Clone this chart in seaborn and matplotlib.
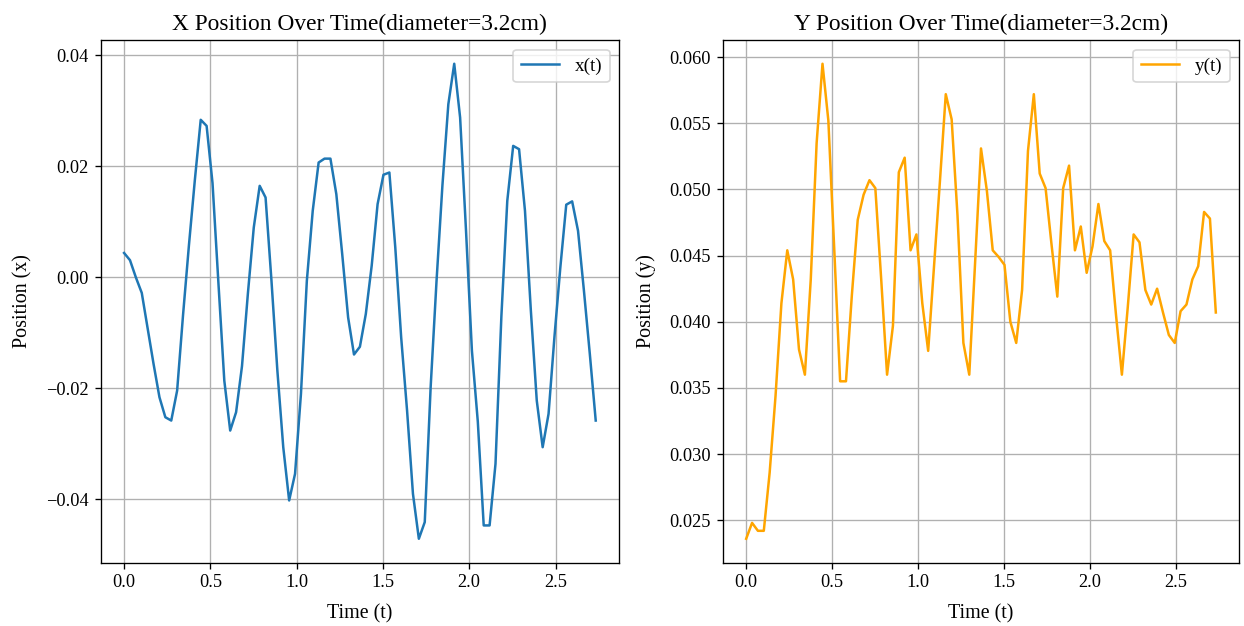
import matplotlib
matplotlib.use("Agg")
import matplotlib.pyplot as plt
import seaborn as sns
import pandas as pd

plt.rcParams['font.family'] = ['Liberation Serif', 'DejaVu Serif']

time_s = [0.0000, 0.0342, 0.0683, 0.1025, 0.1366, 0.1708, 0.2050, 0.2391, 0.2733, 0.3074,
          0.3416, 0.3758, 0.4099, 0.4441, 0.4782, 0.5124, 0.5466, 0.5807, 0.6149, 0.6490,
          0.6832, 0.7174, 0.7515, 0.7857, 0.8198, 0.8540, 0.8882, 0.9223, 0.9565, 0.9906,
          1.0248, 1.0590, 1.0931, 1.1273, 1.1614, 1.1956, 1.2298, 1.2639, 1.2981, 1.3322,
          1.3664, 1.4006, 1.4347, 1.4689, 1.5030, 1.5372, 1.5714, 1.6055, 1.6397, 1.6738,
          1.7080, 1.7422, 1.7763, 1.8105, 1.8446, 1.8788, 1.9130, 1.9471, 1.9813, 2.0154,
          2.0496, 2.0838, 2.1179, 2.1521, 2.1862, 2.2204, 2.2546, 2.2887, 2.3229, 2.3570,
          2.3912, 2.4254, 2.4595, 2.4937, 2.5278, 2.5620, 2.5962, 2.6303, 2.6645, 2.6986,
          2.7328]

x_pos = [0.0044, 0.0031, 0.0000, -0.0028, -0.0092, -0.0156, -0.0216, -0.0252, -0.0258, -0.0204,
         -0.0068, 0.0058, 0.0175, 0.0284, 0.0273, 0.0170, -0.0010, -0.0186, -0.0276, -0.0243,
         -0.0160, -0.0029, 0.0090, 0.0165, 0.0144, -0.0006, -0.0168, -0.0306, -0.0402, -0.0354,
         -0.0210, -0.0006, 0.0120, 0.0207, 0.0214, 0.0214, 0.0150, 0.0042, -0.0072, -0.0139,
         -0.0125, -0.0066, 0.0021, 0.0132, 0.0185, 0.0189, 0.0054, -0.0108, -0.0240, -0.0390,
         -0.0471, -0.0441, -0.0198, -0.0006, 0.0166, 0.0312, 0.0385, 0.0288, 0.0084, -0.0132,
         -0.0260, -0.0447, -0.0447, -0.0336, -0.0070, 0.0138, 0.0237, 0.0231, 0.0120, -0.0060,
         -0.0222, -0.0306, -0.0246, -0.0107, 0.0018, 0.0131, 0.0137, 0.0084, -0.0024, -0.0138,
         -0.0258]

y_pos = [0.0236, 0.0248, 0.0242, 0.0242, 0.0286, 0.0344, 0.0414, 0.0454, 0.0432, 0.0379,
         0.0360, 0.0432, 0.0535, 0.0595, 0.0552, 0.0455, 0.0355, 0.0355, 0.0420, 0.0477,
         0.0496, 0.0507, 0.0501, 0.0432, 0.0360, 0.0397, 0.0513, 0.0524, 0.0454, 0.0466,
         0.0414, 0.0378, 0.0442, 0.0506, 0.0572, 0.0553, 0.0480, 0.0384, 0.0360, 0.0445,
         0.0531, 0.0499, 0.0454, 0.0449, 0.0443, 0.0400, 0.0384, 0.0424, 0.0529, 0.0572,
         0.0512, 0.0501, 0.0459, 0.0419, 0.0501, 0.0518, 0.0454, 0.0472, 0.0437, 0.0457,
         0.0489, 0.0461, 0.0454, 0.0405, 0.0360, 0.0411, 0.0466, 0.0460, 0.0424, 0.0413,
         0.0425, 0.0407, 0.0390, 0.0384, 0.0408, 0.0413, 0.0432, 0.0442, 0.0483, 0.0478,
         0.0407]

df = pd.DataFrame({"t": time_s, "x": x_pos, "y": y_pos})

fig = plt.figure(figsize=(1244 / 120, 626 / 120), dpi=120)
ax1 = fig.add_axes([100.5 / 1244, 1 - 562.5 / 626, (619.3 - 100.5) / 1244, (562.5 - 40) / 626])
ax2 = fig.add_axes([722.7 / 1244, 1 - 562.5 / 626, (1239.3 - 722.7) / 1244, (562.5 - 40) / 626])

sns.lineplot(data=df, x="t", y="x", ax=ax1, color="#1f77b4", label="x(t)", linewidth=1.5)
ax1.set_title("X Position Over Time(diameter=3.2cm)", fontsize=14)
ax1.set_xlabel("Time (t)", fontsize=12, labelpad=8)
ax1.set_ylabel("Position (x)", fontsize=12, labelpad=8)
ax1.grid(True)
ax1.legend(loc="upper right", fontsize=11.5)

sns.lineplot(data=df, x="t", y="y", ax=ax2, color="orange", label="y(t)", linewidth=1.5)
ax2.set_title("Y Position Over Time(diameter=3.2cm)", fontsize=14)
ax2.set_xlabel("Time (t)", fontsize=12, labelpad=8)
ax2.set_ylabel("Position (y)", fontsize=12, labelpad=8)
ax2.grid(True)
ax2.legend(loc="upper right", fontsize=11.5)

for ax in (ax1, ax2):
    ax.tick_params(labelsize=11)

fig.savefig("out.png", dpi=120)
